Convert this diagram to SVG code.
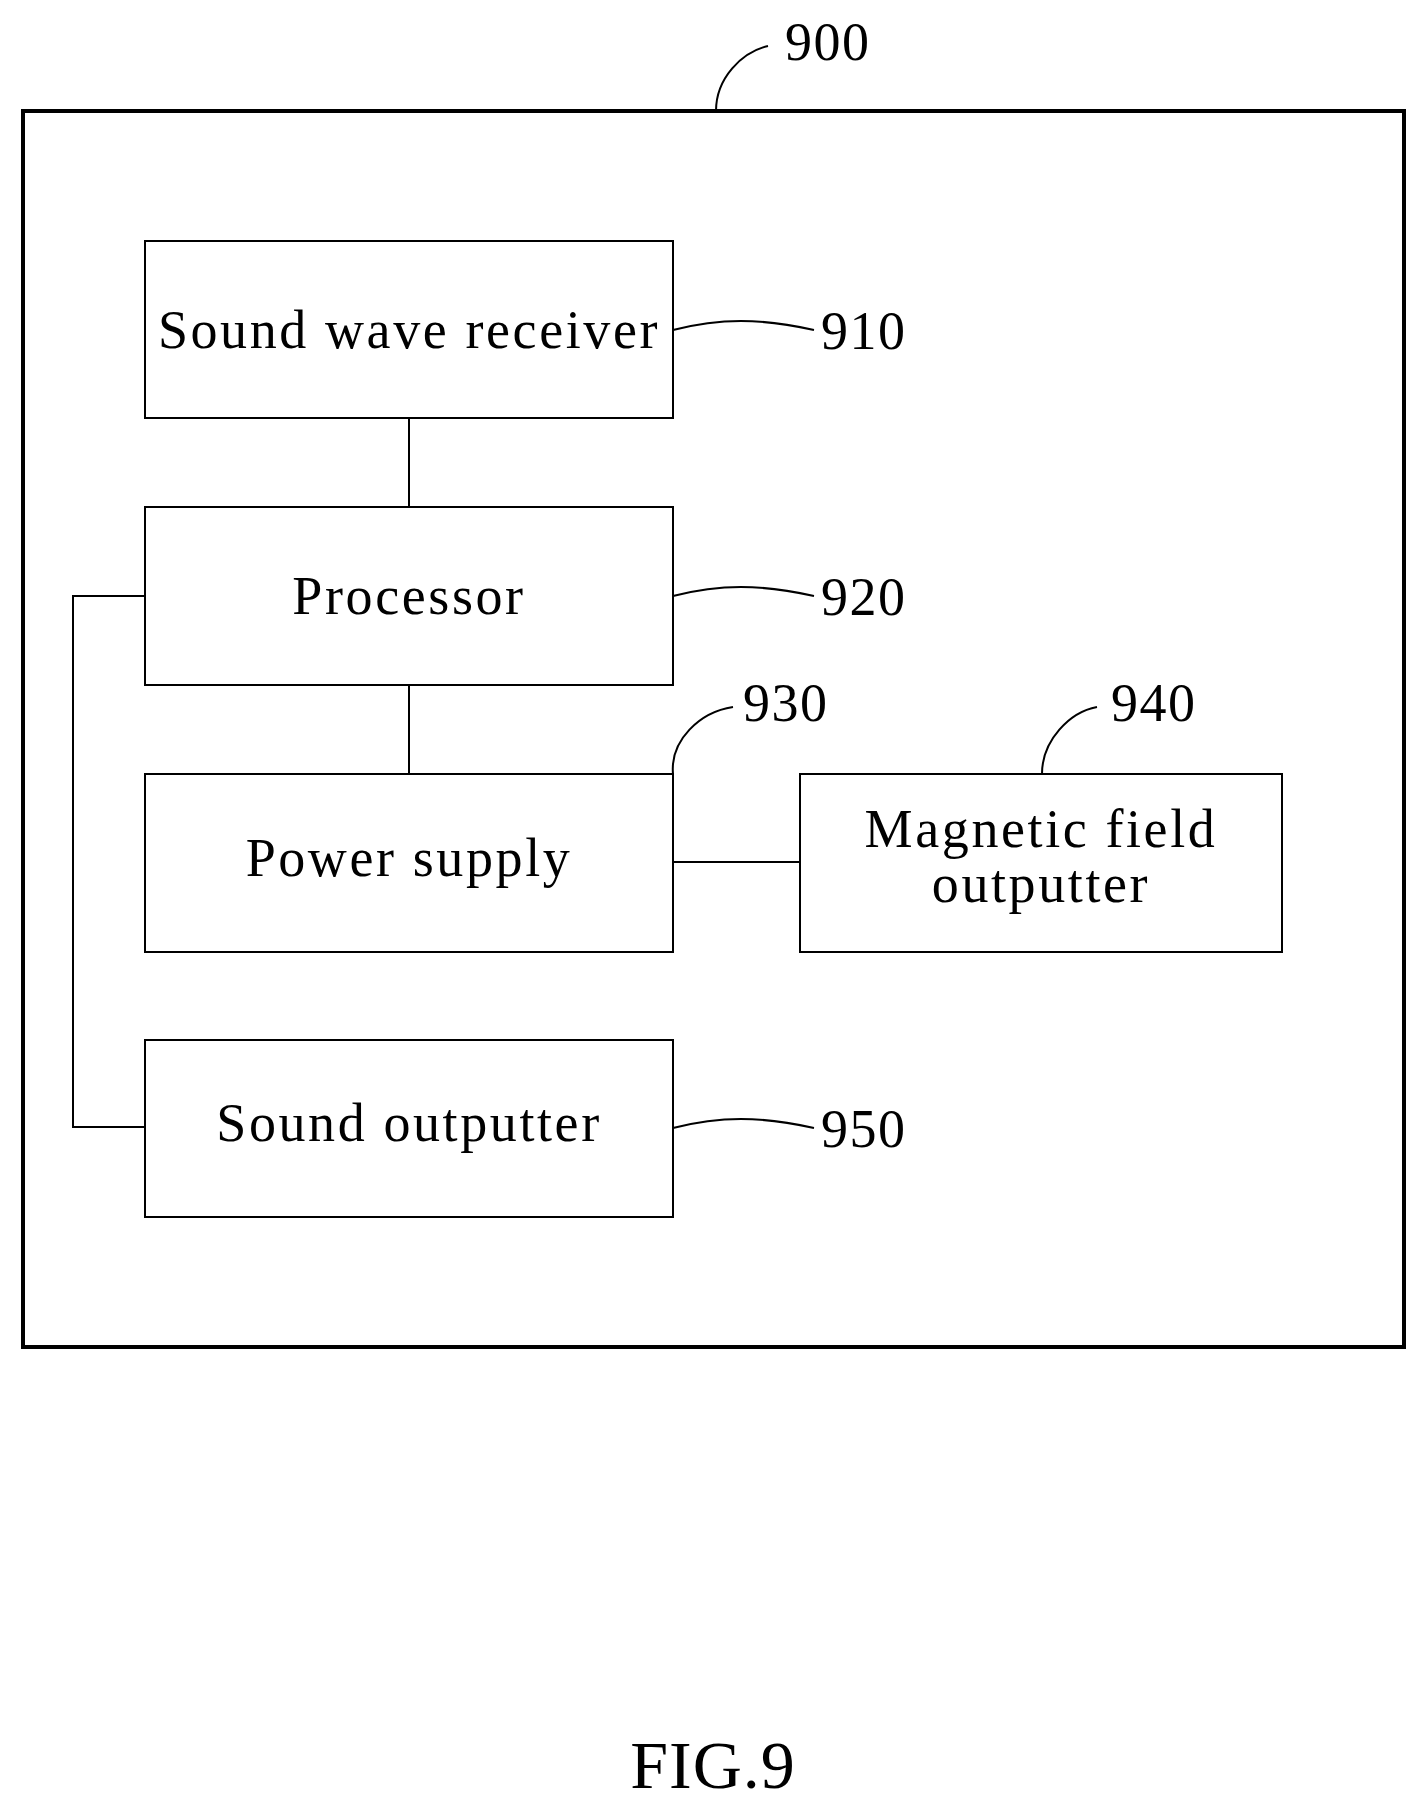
<svg xmlns="http://www.w3.org/2000/svg" width="1426" height="1810" viewBox="0 0 1426 1810">
<style>
.b{fill:none;stroke:#000;stroke-width:2}
.o{fill:none;stroke:#000;stroke-width:4}
.l{fill:none;stroke:#000;stroke-width:2}
text{font-family:"Liberation Serif",serif;font-size:54px;fill:#000;letter-spacing:1.5px}
.c{text-anchor:middle;letter-spacing:2.6px}
</style>
<rect width="1426" height="1810" fill="#fff"/>
<g id="n900"><rect class="o" x="23" y="111" width="1381" height="1236"/></g>
<g id="n910"><rect class="b" x="145" y="241" width="528" height="177"/><text class="c" x="409" y="348">Sound wave receiver</text></g>
<g id="n920"><rect class="b" x="145" y="507" width="528" height="178"/><text class="c" x="409" y="614">Processor</text></g>
<g id="n930"><rect class="b" x="145" y="774" width="528" height="178"/><text class="c" x="409" y="876">Power supply</text></g>
<g id="n940"><rect class="b" x="800" y="774" width="482" height="178"/><text class="c" x="1041" y="847">Magnetic field</text><text class="c" x="1041" y="902">outputter</text></g>
<g id="n950"><rect class="b" x="145" y="1040" width="528" height="177"/><text class="c" x="409" y="1141">Sound outputter</text></g>
<g id="connectors">
<line class="l" x1="409" y1="418" x2="409" y2="507"/>
<line class="l" x1="409" y1="685" x2="409" y2="774"/>
<line class="l" x1="673" y1="862" x2="800" y2="862"/>
<polyline class="l" points="145,596 73,596 73,1127 145,1127"/>
<path class="l" d="M673,330 C720,318 760,318 814,330"/>
<path class="l" d="M673,596 C720,584 760,584 814,596"/>
<path class="l" d="M673,1128 C720,1116 760,1116 814,1128"/>
<path class="l" d="M673,774 C670,740 700,712 733,707"/>
<path class="l" d="M1042,774 C1042,740 1070,712 1097,707"/>
<path class="l" d="M716,111 C716,78 742,52 768,46"/>
</g>
<text x="785" y="60">900</text>
<text x="821" y="349">910</text>
<text x="821" y="615">920</text>
<text x="743" y="721">930</text>
<text x="1111" y="721">940</text>
<text x="821" y="1147">950</text>
<text class="c" x="713" y="1788" style="font-size:68px;letter-spacing:1px">FIG.9</text>
</svg>
